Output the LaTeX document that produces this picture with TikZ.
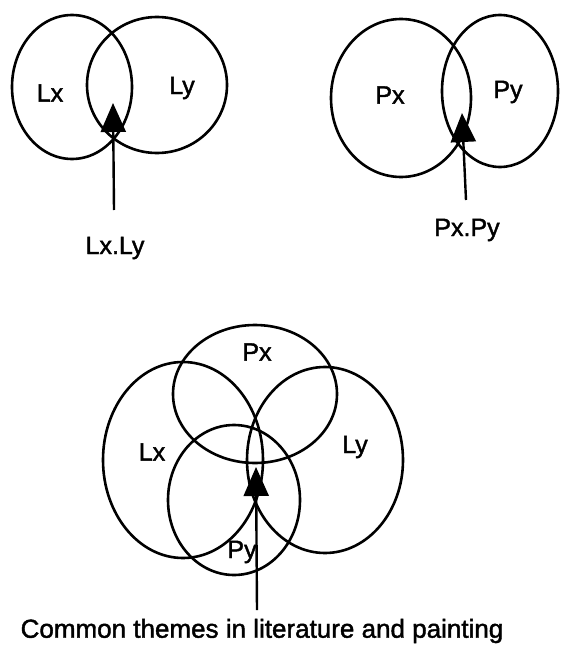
\documentclass[tikz,border=0pt]{standalone}
\usepackage{fontspec}
\setmainfont{Liberation Sans}[BoldFont=Liberation Sans, BoldFeatures={FakeBold=1.6}]
\usetikzlibrary{arrows.meta,shapes.geometric}
\begin{document}
\begin{tikzpicture}[x=1pt,y=-1pt,
  ring/.style={draw, ellipse, line width=2.6pt, inner sep=0pt},
  lbl/.style={font=\bfseries\fontsize{25}{28}\selectfont, inner sep=0pt},
  caplbl/.style={font=\bfseries\fontsize{26}{30}\selectfont, inner sep=0pt},
  arr/.style={line width=2.4pt, -{Triangle[width=25pt,length=29pt]}}]
\useasboundingbox (0,0) rectangle (560,661);
% top left
\node[ring, minimum width=120pt, minimum height=144pt] (tlx) at (72,87) {};
\node[ring, minimum width=140pt, minimum height=136pt] (tly) at (157,85) {};
\node[lbl] (tlxl) at (50,93) {Lx};
\node[lbl] (tlyl) at (182,88) {Ly};
\coordinate (t1s) at (114,210);
\coordinate (t1t) at (113,103);
\draw[arr] (t1s) -- (t1t);
\node[lbl] (t1l) at (115,248) {Lx.Ly};
% top right
\node[ring, minimum width=140pt, minimum height=158pt] (tpx) at (401,98) {};
\node[ring, minimum width=116pt, minimum height=152pt] (tpy) at (500,91) {};
\node[lbl] (tpxl) at (390,95) {Px};
\node[lbl] (tpyl) at (508,92) {Py};
\coordinate (t2s) at (466,200);
\coordinate (t2t) at (462,113);
\draw[arr] (t2s) -- (t2t);
\node[lbl] (t2l) at (467,230) {Px.Py};
% bottom
\node[ring, minimum width=164pt, minimum height=138pt] (bpx) at (255,394) {};
\node[ring, minimum width=160pt, minimum height=196pt] (blx) at (183,460) {};
\node[ring, minimum width=156pt, minimum height=186pt] (bly) at (325,460) {};
\node[ring, minimum width=132pt, minimum height=150pt] (bpy) at (234,500) {};
\node[lbl] (bpxl) at (257,352) {Px};
\node[lbl] (blxl) at (152,452) {Lx};
\node[lbl] (blyl) at (355,447) {Ly};
\node[lbl] (bpyl) at (242,552) {Py};
\coordinate (b1s) at (257,610);
\coordinate (b1t) at (256,467);
\draw[arr] (b1s) -- (b1t);
\node[caplbl] (cap) at (262,631) {Common themes in literature and painting};
\end{tikzpicture}
\end{document}
